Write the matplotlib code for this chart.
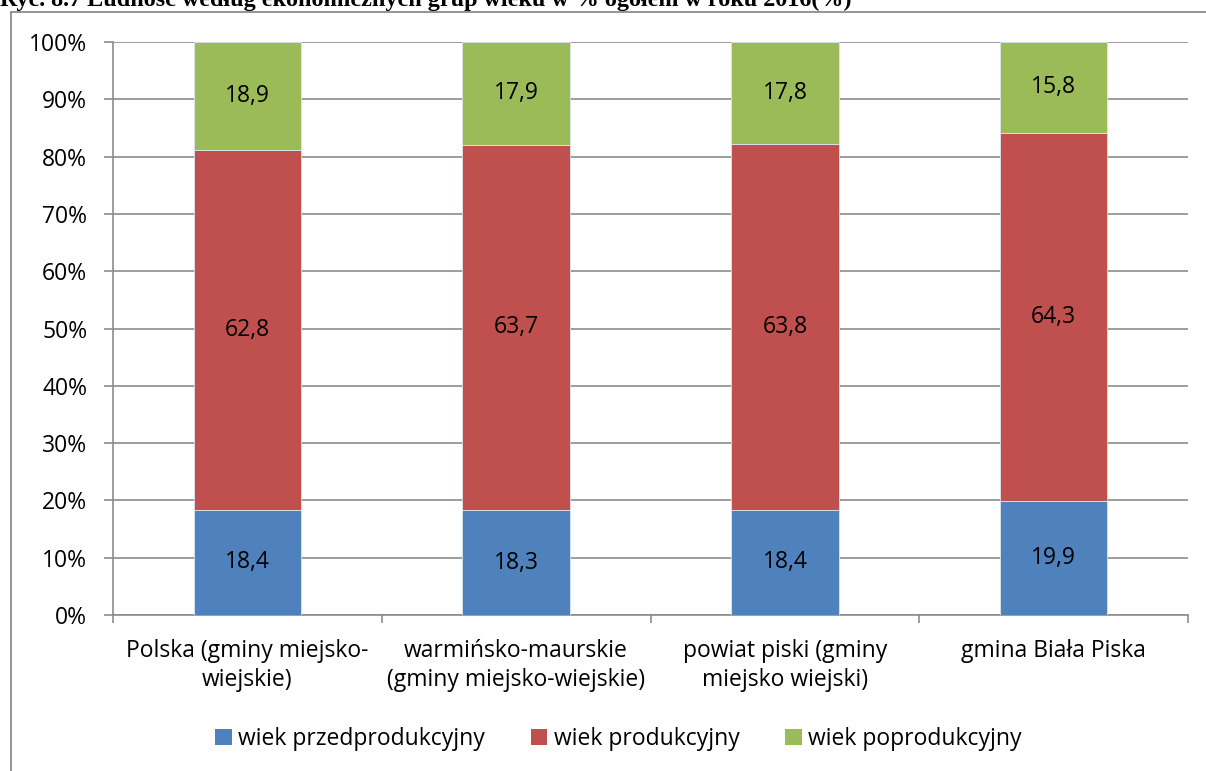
import matplotlib.pyplot as plt
import numpy as np
from matplotlib.lines import Line2D
from matplotlib.patches import Patch

plt.rcParams["font.family"] = ["Open Sans", "DejaVu Sans"]

categories = [
    "Polska (gminy miejsko-\nwiejskie)",
    "warmińsko-maurskie\n(gminy miejsko-wiejskie)",
    "powiat piski (gminy\nmiejsko wiejski)",
    "gmina Biała Piska",
]
series_names = ["wiek przedprodukcyjny", "wiek produkcyjny", "wiek poprodukcyjny"]
przedprodukcyjny = [18.4, 18.3, 18.4, 19.9]
produkcyjny = [62.8, 63.7, 63.8, 64.3]
poprodukcyjny = [18.9, 17.9, 17.8, 15.8]
colors = ["#4F81BD", "#C0504D", "#9BBB59"]
title = "Ryc. 8.7 Ludność według ekonomicznych grup wieku w % ogółem w roku 2016(%)"

data = np.array([przedprodukcyjny, produkcyjny, poprodukcyjny])
shares = data / data.sum(axis=0) * 100

fig = plt.figure(figsize=(12.06, 7.71), dpi=100)
ax = fig.add_axes([113 / 1206, 1 - 615 / 771, 1075 / 1206, 573 / 771])

x = np.arange(len(categories))
bottom = np.zeros(len(categories))
for i, name in enumerate(series_names):
    ax.bar(x, shares[i], bottom=bottom, width=0.4, color=colors[i],
           edgecolor="#dde6f0", linewidth=0.6, label=name, zorder=3)
    for xi, b, h, v in zip(x, bottom, shares[i], data[i]):
        ax.text(xi, b + h / 2, f"{v:.1f}".replace(".", ","), ha="center",
                va="center", fontsize=16.5, color="black", zorder=4)
    bottom += shares[i]

ax.set_xlim(-0.5, len(categories) - 0.5)
ax.set_ylim(0, 100)
ax.set_yticks(np.arange(0, 101, 10))
ax.set_yticklabels([f"{t}%" for t in range(0, 101, 10)], fontsize=16.5)
ax.yaxis.grid(True, color="#8c8c8c", linewidth=1.2, zorder=0)
ax.set_axisbelow(True)

ax.set_xticks(x)
ax.set_xticklabels(categories, fontsize=16.5, linespacing=1.3)
ax.tick_params(axis="x", length=0, pad=17)
ax.set_xticks(np.arange(-0.5, len(categories)), minor=True)
ax.tick_params(axis="x", which="minor", length=6, color="#8c8c8c", width=1.2)
ax.tick_params(axis="y", length=6.5, color="#8c8c8c", width=1.2, pad=12)

for side in ["top", "right"]:
    ax.spines[side].set_visible(False)
ax.spines["left"].set_color("#8c8c8c")
ax.spines["bottom"].set_color("#8c8c8c")
ax.spines["left"].set_linewidth(1.2)
ax.spines["bottom"].set_linewidth(1.2)

handles = [Patch(facecolor=c, edgecolor="none") for c in colors]
fig.legend(handles, series_names, loc="center", bbox_to_anchor=(0.513, 1 - 739 / 771),
           ncol=3, frameon=False, fontsize=16.5, handlelength=0.7,
           handleheight=0.7, handletextpad=0.3, columnspacing=2.0)

# outer chart frame (top and left edges visible)
fig.add_artist(Line2D([11 / 1206, 1], [1 - 12 / 771, 1 - 12 / 771],
                      transform=fig.transFigure, color="#8c8c8c", linewidth=1.3))
fig.add_artist(Line2D([11 / 1206, 11 / 1206], [0, 1 - 12 / 771],
                      transform=fig.transFigure, color="#8c8c8c", linewidth=1.3))

fig.text(0.0, 1 - 6 / 771, title, ha="left", va="baseline", fontsize=17.4,
         fontweight="bold", family=["Liberation Serif", "DejaVu Serif"])

fig.savefig("out.png", dpi=100)
